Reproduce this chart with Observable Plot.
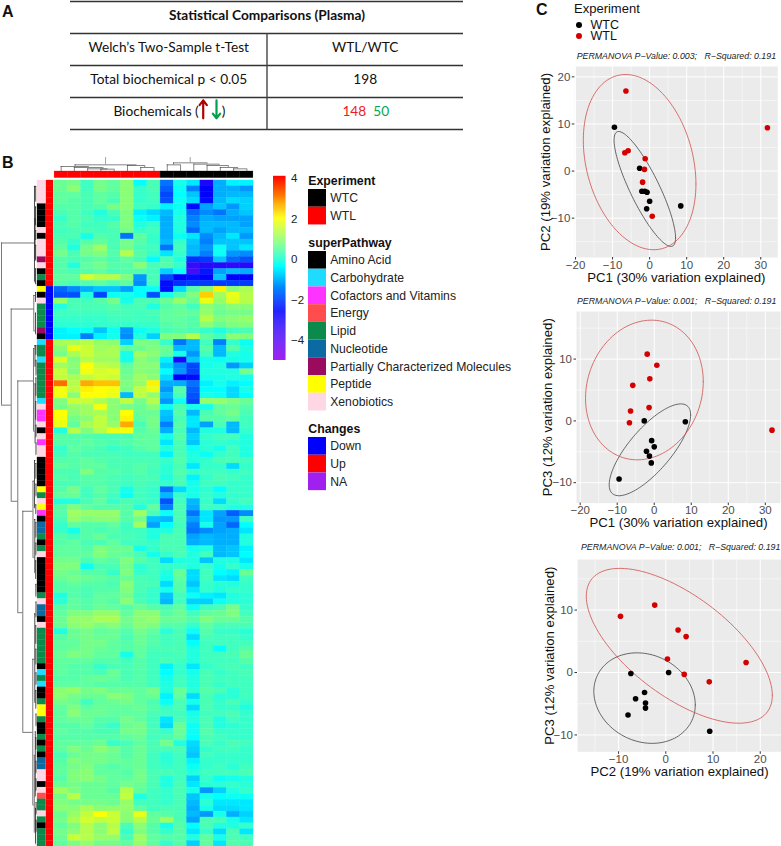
<!DOCTYPE html>
<html><head><meta charset="utf-8">
<script src="https://cdn.jsdelivr.net/npm/d3@7"></script>
<script src="https://cdn.jsdelivr.net/npm/@observablehq/plot@0.6"></script>
<style>
html,body{margin:0;padding:0;background:#fff;width:781px;height:846px;overflow:hidden}
body{position:relative;font-family:"Liberation Sans",Arial,sans-serif}
.p{position:absolute}
.p svg{display:block;overflow:visible;background:transparent;max-width:none}
.t{position:absolute;white-space:pre;line-height:1}
</style></head><body><script>
const FONT='"Liberation Sans",Arial,sans-serif';
// ---------- heat map values (rows top to bottom, 8 WTL then 7 WTC columns)
const sampleCols=["L1","L2","L3","L4","L5","L6","L7","L8","C1","C2","C3","C4","C5","C6","C7"];
const heatRows=[
[.6,.7,.2,.7,.5,.9,-.4,.3,-1.6,-.2,-.6,-3,-1.1,-.5,-.5],
[.6,.9,.2,.7,.5,.9,.1,.3,-1.8,-.3,-1.5,-2.6,-1.1,-1.1,-1.3],
[.5,.5,.3,.5,.4,.9,.1,.2,-2,-.4,-.9,-2.6,-1.1,-1,-1],
[.5,.4,.3,.5,.3,.9,.1,.2,-1.9,-.3,-.7,-2.5,-1,-.7,-.8],
[.4,.4,.3,.4,.7,.9,.2,.1,-.5,-.3,-2.5,-1.2,-.9,-1.3,-.8],
[.3,.4,.2,-.1,.3,.8,-.5,-.7,-1,-.2,-1.7,-1.4,-1.6,-1.1,-.9],
[.1,.4,.3,.1,.1,.8,-.3,-.5,-1.1,-.1,-1.5,-1.1,-1.2,-1.2,-1.2],
[.3,.4,.2,.2,.4,.8,-.1,.1,-1.1,-.1,-1.4,-1,-1,-1,-1.2],
[.2,.3,.3,.2,.3,.7,.1,.2,-1.1,-.1,-1.7,-1,-1.2,-1,-1],
[.3,.3,-.2,.4,.3,-1.6,.5,.1,-1.1,-.3,-.6,-1.4,-1,-.6,-1.3],
[.4,.1,.4,.5,.3,.7,.4,.1,-1,.1,-.9,-1.5,-.9,-.9,-.9],
[.5,-.1,.7,1.1,.3,.7,.3,.2,-1.6,.2,-1,-1.3,-.3,-.9,-.6],
[.7,.3,.7,.8,.4,1.3,.4,.1,-.6,.1,-1,-1.5,-.3,-1.3,-1.4],
[.4,.3,.4,.5,.3,.5,.3,-.4,.3,-.1,-2.2,-2.1,-.9,-1.7,-1.9],
[.4,-.1,.5,.7,.4,.4,.9,.3,.4,.1,-3.4,-3.2,-3.2,-3.3,-3.2],
[.4,.3,.4,.5,.3,.4,.4,.2,-.8,-.3,-3.6,-2.4,-1.2,-1,-1.1],
[.5,.5,1.6,1.3,1.3,.8,-1.3,.3,-2,-2.6,-2.5,-2.6,-.9,-2.6,-2.6],
[.4,.3,.4,.5,.3,.5,-1.4,.2,-2.5,-2.2,-2.1,-2.1,-2.1,-2.1,-2.1],
[-1.7,-1.4,-1.1,-.9,-.9,-1.2,-.4,-.3,-2.5,-.7,.4,.9,2.1,.9,1.2],
[-1.9,-1.9,-.1,-2,-.3,-.2,-.4,-1.9,-.2,.3,.8,2.4,1.1,1.8,1.3],
[1,.3,.2,.4,.7,-.2,.3,.3,.6,1,.6,1.8,1,1.7,1.3],
[-.1,.3,.3,.3,.4,.2,.3,-.1,.4,.5,.2,.9,.7,.9,.9],
[.2,.2,.2,.2,.3,.3,.2,.3,.5,.6,.5,1,.6,.7,.7],
[.1,.1,.1,.1,.2,.2,.2,.2,.5,.5,.4,1.3,.8,.9,1],
[0,0,0,.1,.1,.1,.1,.1,.4,.5,.4,.9,.6,.8,.8],
[-.5,-.4,-.3,-.9,-.3,-1.3,-.3,-.1,.3,.4,.3,.1,-.1,.2,.3],
[-.5,-.5,-1.5,-.5,-.2,-1.4,-.1,-.8,.8,.8,1.3,.5,.2,.9,.8],
[1.2,1.2,1.3,1,.9,-.8,.8,.7,.1,-1.6,-1,.2,-1.5,.1,-.3],
[.9,1.8,1.5,1.1,1.2,.5,.6,.8,.6,-1,-1,.4,-1,.4,-.1],
[.7,1.2,1.5,1.2,1.2,-.2,1.1,.9,.5,-.2,-1.3,.2,-1,-.1,-.2],
[1.7,.8,1.3,1.1,1.1,-.2,.9,.7,-.5,-3,-.9,-.2,-.3,-.2,-.2],
[1.1,.9,2,1.4,1.3,.5,.9,.9,-.8,-1.4,-2,-.2,-.1,-1.3,-.8],
[1.5,.8,1.9,1.6,1.7,.6,.9,.8,-.4,-1.3,-2,-.1,-.1,-.1,.7],
[1.4,1.2,1.4,1.6,1.5,.7,1.1,.9,-.7,-2.6,-2.5,-.2,-.2,-.1,-.2],
[3.2,1.3,2.7,2.5,2.5,.8,1,2.1,-1.1,-1.1,-1.6,-.5,-.2,-.5,-.4],
[1.9,1.4,2.1,2,1.9,.7,1.4,1.8,-1.3,.4,-1.8,-.4,-.4,-.7,-.2],
[1.9,.9,2,2,1.8,-1,1.4,1,-1,.3,-1.9,-.2,-.3,-.7,-.4],
[.8,1.5,1.5,1.2,.9,1.4,.7,1.3,-1.3,-.3,-2,1,1,.8,.6],
[.7,1,1.1,1.9,.9,.7,.6,.9,-.3,.3,-.2,-.2,.5,.6,.4],
[2,.9,1.1,1.2,.9,2,.6,.6,-.9,.4,-1,.3,.5,.7,.3],
[1.9,.7,.9,1.4,.9,2.1,.5,.7,-1,.3,-.6,.4,.4,.5,.2],
[1.8,.5,1.2,1.4,1,2.7,.3,.7,-1.5,.4,-.6,-1.2,.3,-1,.2],
[-.1,1.3,.8,1.3,1.8,1.9,.4,.6,-1.1,.3,-1,-.1,-.1,-1,.1],
[.4,.4,.4,.3,.3,.3,.5,.5,-.2,.4,-.8,.1,.2,.2,-.1],
[.4,.4,.5,.4,.3,.4,.5,.5,-.6,.3,-.9,0,.1,0,-.1],
[.1,.5,.4,.3,.1,.2,.4,.5,-.1,.3,-.3,0,-.2,.2,-.1],
[.2,.4,.3,.3,.3,.2,.2,.2,-.5,.3,-.1,-.3,.1,.2,-.1],
[.4,.4,.5,.4,.3,.3,.3,.3,.1,.4,-.1,.1,.3,.3,.2],
[.5,.4,.5,.5,.3,.3,.4,.3,0,.3,-.6,.1,.1,-.7,.1],
[.3,.3,.8,.4,.4,.3,.4,.2,0,.4,.1,.2,.2,.1,.2],
[.4,.3,.4,.4,.3,.2,.3,.3,-.1,.3,-.5,.1,.3,.2,.1],
[.3,.3,.4,.4,.3,.2,.3,.2,.1,.3,-.2,.2,.2,.1,.1],
[.4,.7,.2,.5,.3,-.2,.2,.1,-1.6,-.7,-.2,0,-.4,.1,.1],
[.5,.6,.2,.4,.2,-.3,.2,.1,-1,.1,-.2,.1,-.1,.1,.1],
[-.1,-.1,.3,.5,.1,.3,.2,.1,-1.9,.2,-1,.1,-.7,.1,.2],
[.4,.8,.5,.4,.4,.4,-.1,.5,-1.5,.3,-1.1,.2,.1,-.1,-.1],
[.4,1.1,1,1,1,.4,1.1,.3,-.3,.3,-1.6,-.6,-1.2,-1.8,-1.4],
[.3,1,.8,.9,.9,.4,.7,-.9,-1,.3,-1.2,-.6,-1.3,-1.3,.2],
[.1,.5,.4,.4,.5,.2,1.1,-1.2,-.4,.2,-1.5,-.2,-1.2,-1.7,-.4],
[.1,-.2,.4,.3,.4,.2,.2,-.1,-.1,.3,-1.6,-1.4,-1.2,-1.1,-.6],
[.4,.2,.4,.6,.3,.3,.2,-.1,.3,.3,-1.2,-1,-1.1,-1.1,-.1],
[.4,.5,.3,.3,.5,.2,.2,.1,.3,.3,-1.1,-1,-1.1,-1.1,-.1],
[.5,.5,.4,.8,.6,.6,-.2,.1,.3,.3,-.2,-.1,-1,-.9,-.5],
[.5,.5,.5,.8,.6,.5,.3,-.2,.1,.3,-.1,.2,-1,-.9,-.4],
[.7,.7,.3,.5,.4,.8,.4,.2,-.7,-.1,-.1,-.9,-.1,-.1,-.6],
[.8,.8,-.3,.3,.3,.7,0,.2,.1,.1,-.1,.1,-.2,.1,-.2],
[.7,.6,.4,.4,.1,.8,.1,.2,-.1,.6,-.7,.2,-.4,-.5,.6],
[.6,.7,.6,.5,.4,.6,.3,.2,-.2,.5,-.7,.2,-.6,-.7,.2],
[.4,.5,.4,.4,.3,.9,.3,.3,-.7,.4,-.9,.1,0,-.1,.1],
[.4,.4,.3,.4,.4,.8,.3,.1,-.2,.4,-.6,.1,-.1,.1,.1],
[-.1,.4,.3,.5,.5,.7,.2,.1,-.9,.2,-.3,-.5,-.6,-.1,0],
[0,.5,.4,.5,.4,.9,.3,.1,-1,.2,-.8,-.8,-.3,-.1,0],
[.4,.5,.4,.6,.5,.4,.6,.4,.3,.5,-.3,.2,.3,.7,.1],
[.5,.8,.8,1,1,.5,.9,.9,.4,.6,.2,.5,.6,.8,.2],
[.6,1,1,1.2,1.2,.7,.9,1,.6,.6,.4,.8,.6,.6,.4],
[.6,.9,1,.8,.9,.6,.9,.8,.4,.4,.1,.5,.3,.3,.3],
[-.1,.6,.7,.5,.6,.4,.7,.5,0,.3,-.3,.4,.1,.1,0],
[.4,.6,.7,.6,.6,.3,.6,.4,.2,.3,-.7,.3,.2,.2,.1],
[.5,.5,.7,.7,.5,.4,.6,.4,.2,.3,-.4,.2,.2,.2,.2],
[.5,.6,.7,.6,.5,.4,.5,.3,.3,.3,-.1,.2,-.4,.2,.4],
[.6,.8,.7,.5,.5,-.2,.5,.2,.2,.3,-.1,.2,.2,.3,.6],
[.5,.5,.5,.4,.4,.2,.4,.2,.3,.2,-.1,.2,.2,.2,.4],
[.5,.4,.4,.1,.3,.3,.4,.2,-.5,.1,-.6,.1,.2,.3,.2],
[.5,.4,.4,.3,.6,.3,.4,.2,-.4,.1,-.2,.3,.1,.2,.3],
[.4,.4,.5,.6,.5,.3,.4,.2,-.2,.2,-.1,.3,.2,.2,.2],
[.5,.5,.5,.4,.4,.4,.4,.2,-.1,.2,-.1,.3,.1,.2,.2],
[.9,1,.7,.8,.6,.6,.5,.7,-.1,.6,0,.4,.3,0,.2],
[.9,.7,.6,.6,.9,.8,.5,.6,-.5,.5,-.7,.3,0,0,.2],
[.7,.6,.2,.5,.6,.7,.5,.3,-.3,.3,-.2,.3,.1,.3,.1],
[.5,.8,.5,.6,.5,.5,.6,.4,.1,.3,-.7,.3,.1,.1,-.1],
[.5,.9,.6,.6,.5,.5,.5,.3,.2,.2,-.2,.2,.2,.3,.1],
[.5,.6,.6,.4,.4,.7,.5,.2,-.6,.3,-.1,.3,-.1,.2,.1],
[.4,.4,.5,.3,.1,.6,.7,.2,-.7,.6,-.3,.3,-.1,0,.1],
[.5,.4,.4,.3,.3,.7,.7,.3,.1,.6,-.3,.4,.1,.1,.1],
[.4,.4,.4,.4,.4,.5,.6,.2,.3,.5,-.4,.3,.2,.1,.1],
[.5,.5,.5,.6,.1,.3,.5,.3,.7,-.1,-.7,.3,.1,.3,.2],
[.5,.8,.6,.9,.7,.4,.6,.3,.3,.3,-.8,.1,.2,.2,.1],
[.3,.6,.7,.7,.6,.4,.6,.2,0,.2,-.9,.2,.1,.1,.1],
[.4,.8,.7,.7,.6,.5,.6,.2,0,.2,-.5,.1,.1,.1,.1],
[.5,.7,.8,.5,.4,.5,.6,.2,.1,.2,-.3,.1,.2,0,.2],
[.5,.8,.9,.5,.5,.4,.7,.3,.3,.2,-.1,.2,.2,.2,.3],
[.4,.8,.9,.7,.5,.5,.7,.3,-.1,.2,-.8,.1,-.3,-.2,-.1],
[.6,.7,.6,.6,.5,.7,.6,.3,-.1,.3,-.6,0,0,.1,0],
[1.1,.8,.6,.6,.4,1.3,.5,.2,.1,.3,-.2,-1.3,-.8,-.1,.1],
[.7,1.3,.6,.6,.6,1.4,-.1,.2,.1,.3,-.9,-.2,-.4,-.3,-.3],
[.8,.7,.7,.7,.6,1,.2,.2,.1,.3,-1,0,-.6,-.6,-.6],
[.9,.9,1.2,.9,1,1,.5,.2,.3,.3,-1.1,-.2,-.7,-.7,-.6],
[.6,1,1.4,2,1.5,.9,1.8,.5,.4,.3,-1,-1.3,-.2,-1.1,-.8],
[.7,1.2,1.6,1.4,1.5,.9,1.3,.6,1.1,.3,-1.2,.3,.3,-.2,-.6],
[.5,.8,1.3,.9,1.3,.3,.9,.4,-.2,.4,-.4,.3,-.1,-.1,.1],
[.7,.9,1.3,.9,1.4,.1,.8,.4,.1,.4,-.6,.1,-.7,.3,-.6],
[.6,1.5,1.3,1,1,.3,1.1,.5,.4,.4,-.1,.5,-.2,.3,.2],
[.5,.8,1,.7,.7,.5,1,.5,.1,.4,-.8,.5,-.6,.4,.3]
];
// ---------- annotations
const experimentNames=["WTC","WTL"], experimentColors=["#000000","#ff0000"];
const pathwayNames=["Amino Acid","Carbohydrate","Cofactors and Vitamins","Energy","Lipid","Nucleotide","Partially Characterized Molecules","Peptide","Xenobiotics"];
const pathwayColors=["#000000","#1fdcff","#ff33ff","#ff4d4d","#0b8a4b","#0b6aa2","#9a0a5e","#ffff00","#ffd7e4"];
const changeNames=["Down","Up","NA"], changeColors=["#0000ff","#ff0000","#a020f0"];
const pathwayKey={A:0,C:1,V:2,E:3,L:4,N:5,P:6,Y:7,X:8};
const rowPathway=("XXXXAAAAXAXXXPXALA"+"YAXLLLLPA"+"CLLCLLLLLL"+"CXVVXAXVXXAAAAAYLXYVANNLALXAAAAAALXNNA"+"XLLLLLLACLCAALYYLAALALANNXXAXELLXLALLL").split("");
const rowChange=["Up","Down","Up"], rowChangeCount=[18,9,86];
const colGroups=["WTL","WTL","WTL","WTL","WTL","WTL","WTL","WTL","WTC","WTC","WTC","WTC","WTC","WTC","WTC"];
// ---------- dendrograms: v = merge position, a,b = rows, ca,cb = child merge positions
const rowMerges=[
[1,10.1,37.6,34,10.7],[10.7,21.3,53.9,33.3,17.3],[17.3,33.5,72.8,33,22.3],[22.3,55.6,93.1,32.5,32.3],
[34,.5,16.7,35,34.6],[34.6,6,13,35.2,35.2],[33.3,19,25,35,35],[35,18.5,20,36,36],[35,22,25.5,36,36],
[33,28,42,34.5,34.6],[34.5,27.5,31,35.3,35.5],[34.6,34,44,35.4,35.2],
[32.5,50.5,63.4,34,34.3],[34,47,55,35.4,35],[34.3,57,66,35.2,35],
[32.3,80.7,105.4,34.3,33.8],[34.3,73,88,35.2,35.4],[33.8,97,110,34.8,35],[34.8,93,104,35.4,35.3],[35,106,112,35.5,35.6],
[35.2,.5,3,36.2,36.2],[35,4,7,36.2,36.2],[35.2,8,9.5,36.2,36.2],[35.2,10.5,13,36.2,36.2],[35,14.5,17,36.2,36.2],
[35.3,27.5,29,36.2,36.2],[35.5,30,32.5,36.2,36.2],[35.4,33,36,36.2,36.2],[35.2,37,40,36.2,36.2],[35.5,41,43,36.2,36.2],[35.5,44,46,36.2,36.2],
[35.4,47.5,50,36.2,36.2],[35.5,51,53,36.2,36.2],[35.3,54.5,56,36.2,36.2],[35.4,57.5,60,36.2,36.2],[35.4,61,63,36.2,36.2],[35.2,64,67,36.2,36.2],[35.4,68,70,36.2,36.2],
[35.5,71,73.5,36.2,36.2],[35.3,75,78,36.2,36.2],[35.4,79,81.5,36.2,36.2],[35.5,83,85,36.2,36.2],[35.3,86,89,36.2,36.2],[35.5,90,92,36.2,36.2],[35.4,94,96,36.2,36.2],[35.5,98,100,36.2,36.2],[35.5,101,103,36.2,36.2],[35.6,105,107,36.2,36.2],[35.6,108,110,36.2,36.2]
];
const rowMergeFields=rowMerges.map(([v,a,b,ca,cb])=>({v,a,b,ca,cb}));
// h = merge height, a,b = column positions, ha,hb = child merge heights
const colMerges=[
[20,1.55,6.15,15,18],
[15,.5,2.55,0,12],[12,1.5,3.65,0,8],[8,2.5,4,0,7],[7,3.5,4.5,0,0],
[18,5.5,6.8,0,12],[12,6.5,7.5,0,0],
[26,8.97,11.5,20,22],[20,8.5,9.5,0,0],[22,10.5,12.4,0,18],[18,11.5,13.1,0,12],[12,12.5,13.8,0,8],[8,13.5,14.5,0,0]
].map(([h,a,b,ha,hb])=>({h,a,b,ha,hb}));
const colStems=[{x:3.85,h1:20,h2:42},{x:10.23,h1:26,h2:42}];
// ---------- colour key
const colorDomain=[-5,-2.6,-.4,2,4.1];
const colorRange=["#a020f0","#0000ff","#00ffff","#ffff00","#ff0000"];
const colorTicks=[-4,-2,0,2,4];
const heatColor={type:"linear",domain:colorDomain,range:colorRange,interpolate:"rgb",clamp:true};
// ---------- PCA scores
const wtcPC1=[-9.5,-2.7,-2.1,-1.3,-.7,0,-.8,8.4];
const wtcPC2=[9.3,.6,-4.3,-4.3,-4.5,-6.4,-8,-7.4];
const wtcPC3=[-9.4,0,-4.9,-5.7,-3.2,-4.2,-6.8,-.15];
const wtlPC1=[-6.4,31.8,-6.7,-5.8,-1.2,-1.4,-1.9,.7];
const wtlPC2=[17,9.2,3.9,4.3,2.6,.35,-2.35,-9.6];
const wtlPC3=[1.6,-1.5,-.3,5.75,6.8,2.15,10.8,9];
const PCRED="#d40000", ELRED="#d0504c", ELBLK="#444444";
function place(svg,left,top){const d=document.createElement("div");d.className="p";d.style.left=left+"px";d.style.top=top+"px";d.appendChild(svg);document.body.appendChild(d);}
function label(s,left,top,css){const d=document.createElement("div");d.className="t";d.style.left=left+"px";d.style.top=top+"px";d.style.cssText+=css;d.textContent=s;document.body.appendChild(d);}
const letter="font:bold 16px "+FONT+";color:#111";
label("A",2,3,letter);label("B",2,154,letter);label("C",536,1,letter);

// ---------- Panel A table
const tableRows=[
 {r:0,l:"Statistical Comparisons (Plasma)",span:true},
 {r:1,l:"Welch’s Two-Sample t-Test",v:"WTL/WTC"},
 {r:2,l:"Total biochemical p < 0.05",v:"198"}];
const tableLines=[0,1,2,3,4];
const tableFont='Lato,"Open Sans",sans-serif';
const tf={fontFamily:tableFont,fontSize:13.7,fill:"#111",dy:-2};
const upArrow=[{x:.3377,y1:3.65,y2:3.09}], downArrow=[{x:.3715,y1:3.09,y2:3.65}];
place(Plot.plot({width:397,height:134,marginTop:1,marginBottom:5,marginLeft:2,marginRight:2,
 style:{background:"transparent"},
 x:{domain:[0,1],axis:null},y:{domain:[4,0],axis:null},
 marks:[
  Plot.ruleY(tableLines,{y:d=>d,stroke:"#333",strokeWidth:1.4}),
  Plot.ruleX([.5],{y1:1,y2:4,stroke:"#444",strokeWidth:1.4}),
  Plot.text(tableRows.filter(d=>d.span),{x:.5,y:d=>d.r+.5,text:"l",fontFamily:tableFont,fontSize:13.7,fontWeight:"bold",fill:"#111",dy:-2}),
  Plot.text(tableRows.filter(d=>!d.span),{x:.25,y:d=>d.r+.5,text:"l",...tf}),
  Plot.text(tableRows.filter(d=>!d.span),{x:.75,y:d=>d.r+.5,text:"v",...tf}),
  Plot.text(["Biochemicals ("],{x:.25,y:3.5,dx:30,text:d=>d,textAnchor:"end",...tf}),
  Plot.arrow(upArrow,{x1:"x",x2:"x",y1:"y1",y2:"y2",stroke:"#b00000",strokeWidth:2.2,headLength:6,headAngle:75,insetStart:0,insetEnd:0}),
  Plot.arrow(downArrow,{x1:"x",x2:"x",y1:"y1",y2:"y2",stroke:"#00a050",strokeWidth:2.2,headLength:6,headAngle:75,insetStart:0,insetEnd:0}),
  Plot.text([")"],{x:.25,y:3.5,dx:53,text:d=>d,textAnchor:"start",...tf}),
  Plot.text(["148"],{x:.75,y:3.5,dx:1,text:d=>d,textAnchor:"end",...tf,fill:"#ee1c25"}),
  Plot.text(["50"],{x:.75,y:3.5,dx:8,text:d=>d,textAnchor:"start",...tf,fill:"#00a651"})
 ]}),68,-.5);

// ---------- Panel B heat map
const heatCells=heatRows.flatMap((row,i)=>row.map((v,j)=>({row:i,col:sampleCols[j],v})));
const rowIds=d3.range(heatRows.length);
const heatH=666.5;
place(Plot.plot({width:199,height:heatH,margin:0,style:{background:"transparent"},
 x:{type:"band",domain:sampleCols,padding:0,axis:null,round:false},
 y:{type:"band",domain:rowIds,padding:0,axis:null,round:false},
 color:heatColor,
 marks:[Plot.cell(heatCells,{x:"col",y:"row",fill:"v",stroke:"v",strokeWidth:.4})]
}),54.3,179.5);
// top annotation
place(Plot.plot({width:199,height:6.6,margin:0,style:{background:"transparent"},
 x:{type:"band",domain:sampleCols,padding:0,axis:null,round:false},y:{axis:null},
 color:{domain:experimentNames,range:experimentColors},
 marks:[Plot.cell(sampleCols,{x:d=>d,fill:(d,i)=>colGroups[i],stroke:(d,i)=>colGroups[i],strokeWidth:.3})]
}),54.3,170.7);
// column dendrogram
const dCol="#333", dW=.6;
place(Plot.plot({width:199,height:14,margin:0,style:{background:"transparent"},
 x:{domain:[0,15],axis:null},y:{domain:[0,42],axis:null},
 marks:[
  Plot.ruleY(colMerges,{y:"h",x1:"a",x2:"b",stroke:dCol,strokeWidth:dW}),
  Plot.ruleX(colMerges,{x:"a",y1:"ha",y2:"h",stroke:dCol,strokeWidth:dW}),
  Plot.ruleX(colMerges,{x:"b",y1:"hb",y2:"h",stroke:dCol,strokeWidth:dW}),
  Plot.ruleX(colStems,{x:"x",y1:"h1",y2:"h2",stroke:"#666",strokeWidth:dW})
 ]}),54.3,156.7);
// row annotations
const changeByRow=rowChange.flatMap((c,i)=>Array(rowChangeCount[i]).fill(c));
place(Plot.plot({width:8.6,height:heatH,margin:0,style:{background:"transparent"},
 x:{axis:null},y:{type:"band",domain:rowIds,padding:0,axis:null,round:false},
 color:{domain:pathwayNames,range:pathwayColors},
 marks:[Plot.cell(rowIds,{y:d=>d,fill:d=>pathwayNames[pathwayKey[rowPathway[d]]],stroke:d=>pathwayNames[pathwayKey[rowPathway[d]]],strokeWidth:.3})]
}),36.7,179.5);
place(Plot.plot({width:7,height:heatH,margin:0,style:{background:"transparent"},
 x:{axis:null},y:{type:"band",domain:rowIds,padding:0,axis:null,round:false},
 color:{domain:changeNames,range:changeColors},
 marks:[Plot.cell(rowIds,{y:d=>d,fill:d=>changeByRow[d],stroke:d=>changeByRow[d],strokeWidth:.3})]
}),45.7,179.5);
// row dendrogram
place(Plot.plot({width:36.7,height:heatH,margin:0,style:{background:"transparent"},
 x:{domain:[0,36.7],axis:null},y:{domain:[heatRows.length-.5,-.5],axis:null},
 marks:[
  Plot.ruleX(rowMergeFields,{x:"v",y1:"a",y2:"b",stroke:d=>d.v<34?"#555":"#222",strokeWidth:.8}),
  Plot.ruleY(rowMergeFields,{y:"a",x1:"v",x2:"ca",stroke:d=>d.v<34?"#555":"#222",strokeWidth:.8}),
  Plot.ruleY(rowMergeFields,{y:"b",x1:"v",x2:"cb",stroke:d=>d.v<34?"#555":"#222",strokeWidth:.8})
 ]}),0,179.5);
// colour bar
const barSteps=d3.range(-5,4.1,.05);
place(Plot.plot({width:45,height:204,marginTop:10,marginBottom:10,marginLeft:0,marginRight:32.5,style:{background:"transparent",fontFamily:FONT},
 x:{domain:[0,1],axis:null},y:{domain:[-5,4.1]},
 color:heatColor,
 marks:[
  Plot.rect(barSteps,{x1:0,x2:1,y1:d=>d,y2:d=>d+.06,fill:d=>d}),
  Plot.axisY({anchor:"right",ticks:colorTicks,tickSize:0,tickPadding:5,label:null,fontSize:11.5,color:"#222",tickFormat:d=>d3.format("")(d).replace("-","−")})
 ]}),272.7,166);
// legends
function legendBlock(title,names,colors,top){
 label(title,308.3,top-6.5,"font:bold 12.3px "+FONT+";color:#111");
 place(Plot.plot({width:215,height:names.length*17.72,margin:0,style:{background:"transparent"},
  x:{type:"band",domain:["k"],range:[0,18],axis:null,padding:0},
  y:{type:"band",domain:names,padding:0,axis:null,round:false},
  color:{domain:names,range:colors},
  marks:[
   Plot.cell(names,{x:()=>"k",y:d=>d,fill:d=>d}),
   Plot.text(names,{frameAnchor:"left",y:d=>d,text:d=>d,dx:21.7,fontFamily:FONT,fontSize:12.2,fill:"#222",textAnchor:"start"})
  ]}),308.3,top+9);
}
legendBlock("Experiment",experimentNames,experimentColors,180);
legendBlock("superPathway",pathwayNames,pathwayColors,242);
legendBlock("Changes",changeNames,changeColors,428);

// ---------- Panel C legend
label("Experiment",574,1,"font:13px "+FONT+";color:#111");
place(Plot.plot({width:60,height:22,margin:0,style:{background:"transparent"},
 x:{axis:null,type:"band",domain:["k"],range:[0,9]},y:{type:"band",domain:experimentNames,axis:null,padding:0},
 color:{domain:experimentNames,range:["#000000",PCRED]},
 marks:[Plot.dot(experimentNames,{x:()=>"k",y:d=>d,fill:d=>d,r:3}),
  Plot.text(experimentNames,{frameAnchor:"left",y:d=>d,text:d=>d,dx:16,fontFamily:FONT,fontSize:12.5,fill:"#111",textAnchor:"start"})]
}),574,18.5);

// ---------- Panel C scatter plots
function ellipse(cx,cy,rx,ry,rho){
 return d3.range(0,361,3).map(deg=>{const t=deg*Math.PI/180;
  return {x:cx+rx*Math.cos(t),y:cy+ry*(rho*Math.cos(t)+Math.sqrt(1-rho*rho)*Math.sin(t))};});
}
function pca(o){
 const wtc=o.cx.map((x,i)=>({x,y:o.cy[i]})), wtl=o.lx.map((x,i)=>({x,y:o.ly[i]}));
 label(o.subtitle,o.subLeft,o.subTop,"font:italic 8.8px "+FONT+";color:#222");
 const svgL=530,svgW=251;
 place(Plot.plot({width:svgW,height:o.bottom-o.top+45,marginLeft:o.left-svgL,marginRight:svgL+svgW-o.right,marginTop:0,marginBottom:45,
  style:{background:"transparent",fontFamily:FONT},
  x:{domain:o.xd},y:{domain:o.yd},
  marks:[
   Plot.frame({fill:"#ebebeb",stroke:"none"}),
   Plot.ruleX(o.xMinor,{stroke:"#fff",strokeWidth:.5}),
   Plot.ruleY(o.yMinor,{stroke:"#fff",strokeWidth:.5}),
   Plot.ruleX(o.xTicks,{stroke:"#fff",strokeWidth:1}),
   Plot.ruleY(o.yTicks,{stroke:"#fff",strokeWidth:1}),
   Plot.axisX({ticks:o.xTicks,tickSize:2.5,tickPadding:.5,stroke:"#333",fontSize:11.5,color:"#4d4d4d",label:null}),
   Plot.axisY({ticks:o.yTicks,tickSize:2.5,tickPadding:2,stroke:"#333",fontSize:11.5,color:"#4d4d4d",label:null}),
   Plot.axisX({ticks:[],tickSize:0,fontSize:13.2,color:"#111",label:o.xLabel,labelAnchor:"center",labelArrow:"none",labelOffset:24}),
   Plot.axisY({ticks:[],tickSize:0,fontSize:13.2,color:"#111",label:o.yLabel,labelAnchor:"center",labelArrow:"none",labelOffset:o.yOff}),
   Plot.line(ellipse(...o.ec),{x:"x",y:"y",stroke:ELBLK,strokeWidth:.8}),
   Plot.line(ellipse(...o.el),{x:"x",y:"y",stroke:ELRED,strokeWidth:.8}),
   Plot.dot(wtc,{x:"x",y:"y",r:2.8,fill:"#000"}),
   Plot.dot(wtl,{x:"x",y:"y",r:2.8,fill:PCRED})
  ]}),svgL,o.top);
}
const xT1=[-20,-10,0,10,20,30],xM1=[-15,-5,5,15,25];
pca({subtitle:"PERMANOVA P−Value: 0.003;   R−Squared: 0.191",subLeft:576.7,subTop:50.5,
 left:574.3,right:777.3,top:65.7,bottom:256.7,xd:[-20.2,34.6],yd:[-18.35,22.2],
 cx:wtcPC1,cy:wtcPC2,lx:wtlPC1,ly:wtlPC2,xTicks:xT1,xMinor:xM1,yTicks:[-10,0,10,20],yMinor:[-15,-5,5,15],
 xLabel:"PC1 (30% variation explained)",yLabel:"PC2 (19% variation explained)",yOff:34,
 ec:[-1.3,-3.8,8.3,12.2,-.85],el:[-2.7,1.9,15.2,18.6,-.25]});
pca({subtitle:"PERMANOVA P−Value: 0.001;   R−Squared: 0.191",subLeft:577,subTop:296,
 left:576,right:780,top:310.7,bottom:502.3,xd:[-21,34.1],yd:[-13.3,17.7],
 cx:wtcPC1,cy:wtcPC3,lx:wtlPC1,ly:wtlPC3,xTicks:xT1,xMinor:xM1,yTicks:[-10,0,10],yMinor:[-5,5,15],
 xLabel:"PC1 (30% variation explained)",yLabel:"PC3 (12% variation explained)",yOff:34,
 ec:[-1.17,-4.68,11,7.43,.76],el:[-2.66,5,15.9,11.3,.12]});
pca({subtitle:"PERMANOVA P−Value: 0.001;   R−Squared: 0.191",subLeft:581,subTop:542,
 left:577,right:781,top:559,bottom:751.3,xd:[-18.7,24.5],yd:[-12.7,18.1],
 cx:wtcPC2,cy:wtcPC3,lx:wtlPC2,ly:wtlPC3,xTicks:[-10,0,10,20],xMinor:[-15,-5,5,15],yTicks:[-10,0,10],yMinor:[-5,5,15],
 xLabel:"PC2 (19% variation explained)",yLabel:"PC3 (12% variation explained)",yOff:33,
 ec:[-4.5,-4.1,10.74,7.25,-.15],el:[2.86,4.28,19.7,12.4,-.64]});
</script></body></html>
